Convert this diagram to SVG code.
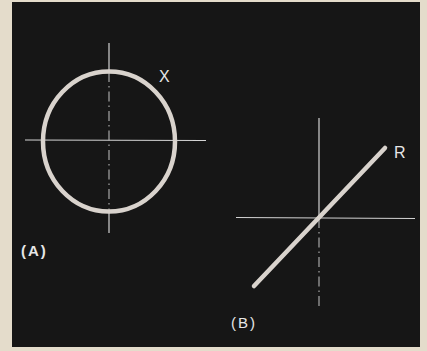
<svg xmlns="http://www.w3.org/2000/svg" width="427" height="351" viewBox="0 0 427 351">
<style>
.axis{stroke:#d4d4d4;stroke-width:1.2;fill:none}
.axisd{stroke:#b5b5b5;stroke-width:1.1;fill:none;stroke-dasharray:10 4 1.5 4}
.thick{stroke:#d9d3cd;stroke-width:4.5;fill:none;stroke-linecap:round}
.lbl{font-family:"Liberation Sans",Arial,sans-serif;fill:#e6e6e6}
.pl{font-size:15px;letter-spacing:2px}
</style>
<rect x="0" y="0" width="427" height="351" fill="#e4dccb"/>
<rect x="12" y="2" width="408" height="345" fill="#161616"/>
<g id="panelA">
<line class="axis" x1="25" y1="140" x2="206" y2="140.5"/>
<line class="axis" x1="109" y1="43" x2="109" y2="72"/>
<line class="axisd" x1="109" y1="72" x2="109" y2="211"/>
<line class="axis" x1="109" y1="211" x2="109" y2="233"/>
<ellipse class="thick" cx="109" cy="141.5" rx="66" ry="70"/>
<text class="lbl" x="159" y="82" font-size="16">X</text>
<text class="lbl pl" x="21" y="256" font-weight="bold">(A)</text>
</g>
<g id="panelB">
<line class="axis" x1="236" y1="217.5" x2="415" y2="218.5"/>
<line class="axis" x1="319" y1="118" x2="319" y2="218"/>
<line class="axisd" x1="319" y1="218" x2="319" y2="309"/>
<line class="thick" x1="254" y1="286" x2="385" y2="148"/>
<text class="lbl" x="394" y="158" font-size="16">R</text>
<text class="lbl pl" x="231" y="328">(B)</text>
</g>
</svg>
